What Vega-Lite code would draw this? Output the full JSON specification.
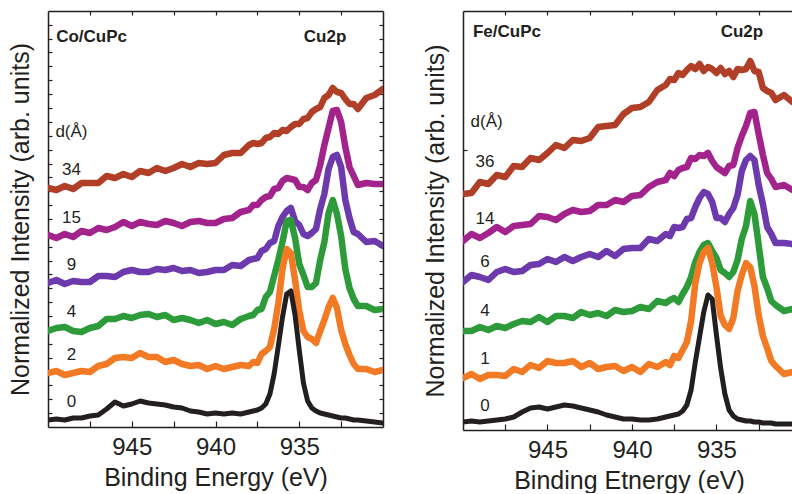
{
  "$schema": "https://vega.github.io/schema/vega-lite/v6.json",
  "padding": {"left": 8, "top": 10, "right": 0, "bottom": 0},
  "spacing": 39,
  "config": {
    "font": "Liberation Sans",
    "view": {"stroke": null},
    "axis": {
      "grid": false,
      "domainColor": "#231f20",
      "domainWidth": 1.5,
      "tickColor": "#231f20",
      "tickWidth": 1.2,
      "labelColor": "#231f20",
      "titleColor": "#231f20",
      "labelFontSize": 24,
      "titleFontSize": 25,
      "titleFontWeight": "normal"
    }
  },
  "datasets": {
    "co": [
      {"d":"34","e":950,"y":23.9},{"d":"34","e":949.5,"y":23.7},{"d":"34","e":949,"y":24.1},{"d":"34","e":948.5,"y":23.8},{"d":"34","e":948,"y":24.4},{"d":"34","e":947.5,"y":24.4},{"d":"34","e":947,"y":24.4},{"d":"34","e":946.5,"y":25.1},{"d":"34","e":946,"y":24.9},{"d":"34","e":945.5,"y":25.3},{"d":"34","e":945,"y":25.0},{"d":"34","e":944.5,"y":25.6},{"d":"34","e":944,"y":25.4},{"d":"34","e":943.5,"y":25.9},{"d":"34","e":943,"y":25.6},{"d":"34","e":942.5,"y":25.9},{"d":"34","e":942,"y":26.3},{"d":"34","e":941.5,"y":26.0},{"d":"34","e":941,"y":26.4},{"d":"34","e":940.5,"y":26.3},{"d":"34","e":940,"y":26.4},{"d":"34","e":939.5,"y":27.2},{"d":"34","e":939,"y":27.4},{"d":"34","e":938.5,"y":27.4},{"d":"34","e":938,"y":28.2},{"d":"34","e":937.75,"y":28.4},{"d":"34","e":937.5,"y":28.3},{"d":"34","e":937.25,"y":28.4},{"d":"34","e":937,"y":28.9},{"d":"34","e":936.75,"y":29.0},{"d":"34","e":936.5,"y":29.4},{"d":"34","e":936.25,"y":29.3},{"d":"34","e":936,"y":29.7},{"d":"34","e":935.75,"y":29.6},{"d":"34","e":935.5,"y":30.0},{"d":"34","e":935.25,"y":30.3},{"d":"34","e":935,"y":30.3},{"d":"34","e":934.75,"y":30.8},{"d":"34","e":934.5,"y":30.9},{"d":"34","e":934.25,"y":31.5},{"d":"34","e":934,"y":31.8},{"d":"34","e":933.75,"y":32.0},{"d":"34","e":933.5,"y":32.9},{"d":"34","e":933.25,"y":33.2},{"d":"34","e":933,"y":33.9},{"d":"34","e":932.75,"y":33.5},{"d":"34","e":932.5,"y":33.4},{"d":"34","e":932.25,"y":32.8},{"d":"34","e":932,"y":32.3},{"d":"34","e":931.75,"y":32.3},{"d":"34","e":931.5,"y":31.8},{"d":"34","e":931,"y":32.9},{"d":"34","e":930.5,"y":33.2},{"d":"34","e":930,"y":33.8},
      {"d":"15","e":950,"y":19.2},{"d":"15","e":949.5,"y":18.9},{"d":"15","e":949,"y":19.3},{"d":"15","e":948.5,"y":19.0},{"d":"15","e":948,"y":19.6},{"d":"15","e":947.5,"y":19.4},{"d":"15","e":947,"y":19.9},{"d":"15","e":946.5,"y":19.7},{"d":"15","e":946,"y":20.0},{"d":"15","e":945.5,"y":20.5},{"d":"15","e":945,"y":20.1},{"d":"15","e":944.5,"y":20.5},{"d":"15","e":944,"y":20.3},{"d":"15","e":943.5,"y":20.2},{"d":"15","e":943,"y":20.6},{"d":"15","e":942.5,"y":20.4},{"d":"15","e":942,"y":20.1},{"d":"15","e":941.5,"y":20.5},{"d":"15","e":941,"y":20.6},{"d":"15","e":940.5,"y":20.4},{"d":"15","e":940,"y":20.4},{"d":"15","e":939.5,"y":20.8},{"d":"15","e":939,"y":20.9},{"d":"15","e":938.5,"y":21.5},{"d":"15","e":938,"y":21.7},{"d":"15","e":937.75,"y":22.2},{"d":"15","e":937.5,"y":22.2},{"d":"15","e":937.25,"y":22.7},{"d":"15","e":937,"y":23.0},{"d":"15","e":936.75,"y":23.1},{"d":"15","e":936.5,"y":23.8},{"d":"15","e":936.25,"y":23.9},{"d":"15","e":936,"y":24.6},{"d":"15","e":935.75,"y":24.9},{"d":"15","e":935.5,"y":24.8},{"d":"15","e":935.25,"y":24.7},{"d":"15","e":935,"y":24.0},{"d":"15","e":934.75,"y":24.0},{"d":"15","e":934.5,"y":23.7},{"d":"15","e":934.25,"y":24.4},{"d":"15","e":934,"y":24.7},{"d":"15","e":933.75,"y":26.2},{"d":"15","e":933.5,"y":28.2},{"d":"15","e":933.25,"y":29.9},{"d":"15","e":933,"y":31.6},{"d":"15","e":932.75,"y":31.7},{"d":"15","e":932.5,"y":30.5},{"d":"15","e":932.25,"y":28.0},{"d":"15","e":932,"y":26.0},{"d":"15","e":931.75,"y":25.1},{"d":"15","e":931.5,"y":24.2},{"d":"15","e":931,"y":24.4},{"d":"15","e":930.5,"y":24.3},{"d":"15","e":930,"y":24.3},
      {"d":"9","e":950,"y":14.4},{"d":"9","e":949.5,"y":14.7},{"d":"9","e":949,"y":14.3},{"d":"9","e":948.5,"y":14.6},{"d":"9","e":948,"y":14.5},{"d":"9","e":947.5,"y":14.5},{"d":"9","e":947,"y":15.1},{"d":"9","e":946.5,"y":15.1},{"d":"9","e":946,"y":15.0},{"d":"9","e":945.5,"y":15.5},{"d":"9","e":945,"y":15.7},{"d":"9","e":944.5,"y":15.5},{"d":"9","e":944,"y":15.5},{"d":"9","e":943.5,"y":15.8},{"d":"9","e":943,"y":15.7},{"d":"9","e":942.5,"y":15.9},{"d":"9","e":942,"y":15.6},{"d":"9","e":941.5,"y":15.7},{"d":"9","e":941,"y":15.4},{"d":"9","e":940.5,"y":15.5},{"d":"9","e":940,"y":15.7},{"d":"9","e":939.5,"y":15.7},{"d":"9","e":939,"y":16.2},{"d":"9","e":938.5,"y":16.1},{"d":"9","e":938,"y":16.7},{"d":"9","e":937.75,"y":16.8},{"d":"9","e":937.5,"y":16.9},{"d":"9","e":937.25,"y":17.6},{"d":"9","e":937,"y":17.8},{"d":"9","e":936.75,"y":18.4},{"d":"9","e":936.5,"y":18.6},{"d":"9","e":936.25,"y":20.1},{"d":"9","e":936,"y":21.0},{"d":"9","e":935.75,"y":21.6},{"d":"9","e":935.5,"y":21.9},{"d":"9","e":935.25,"y":20.6},{"d":"9","e":935,"y":20.2},{"d":"9","e":934.75,"y":19.3},{"d":"9","e":934.5,"y":19.1},{"d":"9","e":934.25,"y":19.4},{"d":"9","e":934,"y":19.8},{"d":"9","e":933.75,"y":21.8},{"d":"9","e":933.5,"y":23.3},{"d":"9","e":933.25,"y":25.8},{"d":"9","e":933,"y":27.0},{"d":"9","e":932.75,"y":27.2},{"d":"9","e":932.5,"y":26.0},{"d":"9","e":932.25,"y":22.7},{"d":"9","e":932,"y":20.9},{"d":"9","e":931.75,"y":19.5},{"d":"9","e":931.5,"y":19.3},{"d":"9","e":931,"y":18.5},{"d":"9","e":930.5,"y":18.6},{"d":"9","e":930,"y":18.1},
      {"d":"4","e":950,"y":9.6},{"d":"4","e":949.5,"y":9.9},{"d":"4","e":949,"y":10.0},{"d":"4","e":948.5,"y":9.6},{"d":"4","e":948,"y":9.5},{"d":"4","e":947.5,"y":9.9},{"d":"4","e":947,"y":10.1},{"d":"4","e":946.5,"y":10.8},{"d":"4","e":946,"y":10.8},{"d":"4","e":945.5,"y":11.1},{"d":"4","e":945,"y":10.9},{"d":"4","e":944.5,"y":11.2},{"d":"4","e":944,"y":11.3},{"d":"4","e":943.5,"y":11.0},{"d":"4","e":943,"y":11.2},{"d":"4","e":942.5,"y":10.7},{"d":"4","e":942,"y":10.9},{"d":"4","e":941.5,"y":10.7},{"d":"4","e":941,"y":10.4},{"d":"4","e":940.5,"y":10.7},{"d":"4","e":940,"y":10.3},{"d":"4","e":939.5,"y":10.5},{"d":"4","e":939,"y":10.2},{"d":"4","e":938.5,"y":10.8},{"d":"4","e":938,"y":11.1},{"d":"4","e":937.75,"y":11.2},{"d":"4","e":937.5,"y":11.7},{"d":"4","e":937.25,"y":11.8},{"d":"4","e":937,"y":13.0},{"d":"4","e":936.75,"y":13.5},{"d":"4","e":936.5,"y":15.1},{"d":"4","e":936.25,"y":16.7},{"d":"4","e":936,"y":18.5},{"d":"4","e":935.75,"y":20.6},{"d":"4","e":935.5,"y":20.7},{"d":"4","e":935.25,"y":18.9},{"d":"4","e":935,"y":16.3},{"d":"4","e":934.75,"y":15.2},{"d":"4","e":934.5,"y":14.0},{"d":"4","e":934.25,"y":14.0},{"d":"4","e":934,"y":14.4},{"d":"4","e":933.75,"y":16.7},{"d":"4","e":933.5,"y":18.5},{"d":"4","e":933.25,"y":21.4},{"d":"4","e":933,"y":22.7},{"d":"4","e":932.75,"y":21.3},{"d":"4","e":932.5,"y":19.1},{"d":"4","e":932.25,"y":15.8},{"d":"4","e":932,"y":13.9},{"d":"4","e":931.75,"y":12.8},{"d":"4","e":931.5,"y":12.1},{"d":"4","e":931,"y":12.1},{"d":"4","e":930.5,"y":11.7},{"d":"4","e":930,"y":11.8},
      {"d":"2","e":950,"y":5.4},{"d":"2","e":949.5,"y":5.6},{"d":"2","e":949,"y":5.2},{"d":"2","e":948.5,"y":5.4},{"d":"2","e":948,"y":5.6},{"d":"2","e":947.5,"y":5.5},{"d":"2","e":947,"y":6.1},{"d":"2","e":946.5,"y":6.3},{"d":"2","e":946,"y":6.9},{"d":"2","e":945.5,"y":7.0},{"d":"2","e":945,"y":6.9},{"d":"2","e":944.5,"y":7.4},{"d":"2","e":944,"y":7.0},{"d":"2","e":943.5,"y":7.0},{"d":"2","e":943,"y":6.5},{"d":"2","e":942.5,"y":6.7},{"d":"2","e":942,"y":6.3},{"d":"2","e":941.5,"y":6.1},{"d":"2","e":941,"y":6.2},{"d":"2","e":940.5,"y":5.8},{"d":"2","e":940,"y":6.1},{"d":"2","e":939.5,"y":5.8},{"d":"2","e":939,"y":6.0},{"d":"2","e":938.5,"y":6.2},{"d":"2","e":938,"y":6.1},{"d":"2","e":937.75,"y":6.5},{"d":"2","e":937.5,"y":6.4},{"d":"2","e":937.25,"y":7.3},{"d":"2","e":937,"y":7.6},{"d":"2","e":936.75,"y":8.0},{"d":"2","e":936.5,"y":9.8},{"d":"2","e":936.25,"y":12.4},{"d":"2","e":936,"y":15.8},{"d":"2","e":935.75,"y":17.8},{"d":"2","e":935.5,"y":17.4},{"d":"2","e":935.25,"y":14.7},{"d":"2","e":935,"y":11.6},{"d":"2","e":934.75,"y":9.6},{"d":"2","e":934.5,"y":9.0},{"d":"2","e":934.25,"y":8.8},{"d":"2","e":934,"y":8.4},{"d":"2","e":933.75,"y":9.6},{"d":"2","e":933.5,"y":10.7},{"d":"2","e":933.25,"y":12.0},{"d":"2","e":933,"y":12.9},{"d":"2","e":932.75,"y":11.9},{"d":"2","e":932.5,"y":9.7},{"d":"2","e":932.25,"y":8.3},{"d":"2","e":932,"y":7.2},{"d":"2","e":931.75,"y":6.3},{"d":"2","e":931.5,"y":5.8},{"d":"2","e":931,"y":5.8},{"d":"2","e":930.5,"y":5.5},{"d":"2","e":930,"y":5.7},
      {"d":"0","e":950,"y":0.7},{"d":"0","e":949.5,"y":0.8},{"d":"0","e":949,"y":0.7},{"d":"0","e":948.5,"y":0.9},{"d":"0","e":948,"y":0.9},{"d":"0","e":947.5,"y":1.1},{"d":"0","e":947,"y":1.2},{"d":"0","e":946.5,"y":1.8},{"d":"0","e":946,"y":2.5},{"d":"0","e":945.5,"y":2.1},{"d":"0","e":945,"y":2.3},{"d":"0","e":944.5,"y":2.6},{"d":"0","e":944,"y":2.4},{"d":"0","e":943.5,"y":2.3},{"d":"0","e":943,"y":2.2},{"d":"0","e":942.5,"y":2.0},{"d":"0","e":942,"y":1.9},{"d":"0","e":941.5,"y":1.6},{"d":"0","e":941,"y":1.5},{"d":"0","e":940.5,"y":1.3},{"d":"0","e":940,"y":1.4},{"d":"0","e":939.5,"y":1.3},{"d":"0","e":939,"y":1.4},{"d":"0","e":938.5,"y":1.3},{"d":"0","e":938,"y":1.5},{"d":"0","e":937.75,"y":1.6},{"d":"0","e":937.5,"y":1.7},{"d":"0","e":937.25,"y":1.9},{"d":"0","e":937,"y":2.3},{"d":"0","e":936.75,"y":3.3},{"d":"0","e":936.5,"y":5.3},{"d":"0","e":936.25,"y":8.1},{"d":"0","e":936,"y":11.0},{"d":"0","e":935.75,"y":13.3},{"d":"0","e":935.5,"y":13.6},{"d":"0","e":935.25,"y":11.2},{"d":"0","e":935,"y":7.7},{"d":"0","e":934.75,"y":4.4},{"d":"0","e":934.5,"y":2.6},{"d":"0","e":934.25,"y":1.9},{"d":"0","e":934,"y":1.6},{"d":"0","e":933.75,"y":1.4},{"d":"0","e":933.5,"y":1.3},{"d":"0","e":933.25,"y":1.2},{"d":"0","e":933,"y":1.1},{"d":"0","e":932.75,"y":1.0},{"d":"0","e":932.5,"y":0.9},{"d":"0","e":932.25,"y":0.9},{"d":"0","e":932,"y":0.8},{"d":"0","e":931.75,"y":0.7},{"d":"0","e":931.5,"y":0.7},{"d":"0","e":931,"y":0.6},{"d":"0","e":930.5,"y":0.5},{"d":"0","e":930,"y":0.4}
    ],
    "fe": [
      {"d":"36","e":950,"y":23.6},{"d":"36","e":949.5,"y":23.7},{"d":"36","e":949,"y":24.8},{"d":"36","e":948.5,"y":24.6},{"d":"36","e":948,"y":25.5},{"d":"36","e":947.5,"y":25.3},{"d":"36","e":947,"y":26.4},{"d":"36","e":946.5,"y":26.3},{"d":"36","e":946,"y":27.2},{"d":"36","e":945.5,"y":27.0},{"d":"36","e":945,"y":27.7},{"d":"36","e":944.5,"y":28.5},{"d":"36","e":944,"y":28.2},{"d":"36","e":943.5,"y":29.0},{"d":"36","e":943,"y":28.9},{"d":"36","e":942.5,"y":29.2},{"d":"36","e":942,"y":30.3},{"d":"36","e":941.5,"y":30.4},{"d":"36","e":941,"y":30.5},{"d":"36","e":940.5,"y":31.6},{"d":"36","e":940,"y":32.2},{"d":"36","e":939.5,"y":32.3},{"d":"36","e":939,"y":32.8},{"d":"36","e":938.5,"y":34.0},{"d":"36","e":938,"y":34.5},{"d":"36","e":937.75,"y":35.1},{"d":"36","e":937.5,"y":35.0},{"d":"36","e":937.25,"y":35.7},{"d":"36","e":937,"y":35.5},{"d":"36","e":936.75,"y":36.0},{"d":"36","e":936.5,"y":36.4},{"d":"36","e":936.25,"y":36.1},{"d":"36","e":936,"y":36.6},{"d":"36","e":935.75,"y":35.9},{"d":"36","e":935.5,"y":36.3},{"d":"36","e":935.25,"y":36.1},{"d":"36","e":935,"y":35.7},{"d":"36","e":934.75,"y":36.2},{"d":"36","e":934.5,"y":35.6},{"d":"36","e":934.25,"y":35.9},{"d":"36","e":934,"y":35.3},{"d":"36","e":933.75,"y":36.1},{"d":"36","e":933.5,"y":36.0},{"d":"36","e":933.25,"y":36.1},{"d":"36","e":933,"y":36.9},{"d":"36","e":932.75,"y":35.9},{"d":"36","e":932.5,"y":35.8},{"d":"36","e":932.25,"y":34.2},{"d":"36","e":932,"y":33.9},{"d":"36","e":931.75,"y":33.7},{"d":"36","e":931.5,"y":33.0},{"d":"36","e":931,"y":33.5},{"d":"36","e":930.5,"y":32.8},{"d":"36","e":930,"y":33.4},
      {"d":"14","e":950,"y":18.9},{"d":"14","e":949.5,"y":19.6},{"d":"14","e":949,"y":19.2},{"d":"14","e":948.5,"y":19.7},{"d":"14","e":948,"y":20.3},{"d":"14","e":947.5,"y":19.8},{"d":"14","e":947,"y":20.4},{"d":"14","e":946.5,"y":20.5},{"d":"14","e":946,"y":20.6},{"d":"14","e":945.5,"y":21.4},{"d":"14","e":945,"y":21.3},{"d":"14","e":944.5,"y":21.0},{"d":"14","e":944,"y":21.6},{"d":"14","e":943.5,"y":22.0},{"d":"14","e":943,"y":21.8},{"d":"14","e":942.5,"y":21.9},{"d":"14","e":942,"y":22.5},{"d":"14","e":941.5,"y":22.5},{"d":"14","e":941,"y":23.0},{"d":"14","e":940.5,"y":22.8},{"d":"14","e":940,"y":23.4},{"d":"14","e":939.5,"y":23.5},{"d":"14","e":939,"y":24.3},{"d":"14","e":938.5,"y":24.8},{"d":"14","e":938,"y":25.0},{"d":"14","e":937.75,"y":25.7},{"d":"14","e":937.5,"y":25.4},{"d":"14","e":937.25,"y":26.0},{"d":"14","e":937,"y":26.2},{"d":"14","e":936.75,"y":26.3},{"d":"14","e":936.5,"y":27.2},{"d":"14","e":936.25,"y":27.1},{"d":"14","e":936,"y":27.5},{"d":"14","e":935.75,"y":27.4},{"d":"14","e":935.5,"y":27.7},{"d":"14","e":935.25,"y":26.9},{"d":"14","e":935,"y":26.3},{"d":"14","e":934.75,"y":26.0},{"d":"14","e":934.5,"y":25.7},{"d":"14","e":934.25,"y":26.4},{"d":"14","e":934,"y":26.5},{"d":"14","e":933.75,"y":28.2},{"d":"14","e":933.5,"y":29.4},{"d":"14","e":933.25,"y":30.4},{"d":"14","e":933,"y":31.7},{"d":"14","e":932.75,"y":31.8},{"d":"14","e":932.5,"y":29.6},{"d":"14","e":932.25,"y":27.5},{"d":"14","e":932,"y":25.7},{"d":"14","e":931.75,"y":25.1},{"d":"14","e":931.5,"y":24.3},{"d":"14","e":931,"y":24.5},{"d":"14","e":930.5,"y":24.0},{"d":"14","e":930,"y":24.2},
      {"d":"6","e":950,"y":14.8},{"d":"6","e":949.5,"y":15.5},{"d":"6","e":949,"y":15.3},{"d":"6","e":948.5,"y":15.0},{"d":"6","e":948,"y":15.8},{"d":"6","e":947.5,"y":16.1},{"d":"6","e":947,"y":15.8},{"d":"6","e":946.5,"y":15.9},{"d":"6","e":946,"y":16.5},{"d":"6","e":945.5,"y":16.6},{"d":"6","e":945,"y":17.1},{"d":"6","e":944.5,"y":16.8},{"d":"6","e":944,"y":17.3},{"d":"6","e":943.5,"y":16.9},{"d":"6","e":943,"y":17.3},{"d":"6","e":942.5,"y":17.6},{"d":"6","e":942,"y":17.3},{"d":"6","e":941.5,"y":17.9},{"d":"6","e":941,"y":17.4},{"d":"6","e":940.5,"y":18.1},{"d":"6","e":940,"y":18.2},{"d":"6","e":939.5,"y":18.2},{"d":"6","e":939,"y":19.1},{"d":"6","e":938.5,"y":18.9},{"d":"6","e":938,"y":19.6},{"d":"6","e":937.75,"y":19.4},{"d":"6","e":937.5,"y":20.3},{"d":"6","e":937.25,"y":20.2},{"d":"6","e":937,"y":20.3},{"d":"6","e":936.75,"y":21.1},{"d":"6","e":936.5,"y":21.2},{"d":"6","e":936.25,"y":22.3},{"d":"6","e":936,"y":23.2},{"d":"6","e":935.75,"y":23.8},{"d":"6","e":935.5,"y":23.6},{"d":"6","e":935.25,"y":22.8},{"d":"6","e":935,"y":21.2},{"d":"6","e":934.75,"y":21.2},{"d":"6","e":934.5,"y":20.8},{"d":"6","e":934.25,"y":21.6},{"d":"6","e":934,"y":22.2},{"d":"6","e":933.75,"y":23.5},{"d":"6","e":933.5,"y":25.9},{"d":"6","e":933.25,"y":27.0},{"d":"6","e":933,"y":27.4},{"d":"6","e":932.75,"y":27.0},{"d":"6","e":932.5,"y":24.5},{"d":"6","e":932.25,"y":22.6},{"d":"6","e":932,"y":20.3},{"d":"6","e":931.75,"y":19.6},{"d":"6","e":931.5,"y":18.7},{"d":"6","e":931,"y":18.7},{"d":"6","e":930.5,"y":18.6},{"d":"6","e":930,"y":17.9},
      {"d":"4","e":950,"y":9.9},{"d":"4","e":949.5,"y":9.9},{"d":"4","e":949,"y":10.3},{"d":"4","e":948.5,"y":10.0},{"d":"4","e":948,"y":10.4},{"d":"4","e":947.5,"y":10.2},{"d":"4","e":947,"y":10.6},{"d":"4","e":946.5,"y":10.9},{"d":"4","e":946,"y":10.8},{"d":"4","e":945.5,"y":11.3},{"d":"4","e":945,"y":10.8},{"d":"4","e":944.5,"y":11.4},{"d":"4","e":944,"y":11.4},{"d":"4","e":943.5,"y":11.2},{"d":"4","e":943,"y":11.8},{"d":"4","e":942.5,"y":11.5},{"d":"4","e":942,"y":11.7},{"d":"4","e":941.5,"y":11.4},{"d":"4","e":941,"y":12.0},{"d":"4","e":940.5,"y":11.8},{"d":"4","e":940,"y":11.9},{"d":"4","e":939.5,"y":12.3},{"d":"4","e":939,"y":12.1},{"d":"4","e":938.5,"y":12.9},{"d":"4","e":938,"y":12.7},{"d":"4","e":937.75,"y":13.0},{"d":"4","e":937.5,"y":13.2},{"d":"4","e":937.25,"y":12.8},{"d":"4","e":937,"y":13.6},{"d":"4","e":936.75,"y":14.3},{"d":"4","e":936.5,"y":15.3},{"d":"4","e":936.25,"y":16.8},{"d":"4","e":936,"y":17.8},{"d":"4","e":935.75,"y":18.5},{"d":"4","e":935.5,"y":18.7},{"d":"4","e":935.25,"y":17.9},{"d":"4","e":935,"y":17.2},{"d":"4","e":934.75,"y":16.0},{"d":"4","e":934.5,"y":15.7},{"d":"4","e":934.25,"y":15.3},{"d":"4","e":934,"y":15.8},{"d":"4","e":933.75,"y":17.0},{"d":"4","e":933.5,"y":19.1},{"d":"4","e":933.25,"y":20.4},{"d":"4","e":933,"y":22.9},{"d":"4","e":932.75,"y":21.6},{"d":"4","e":932.5,"y":18.5},{"d":"4","e":932.25,"y":15.3},{"d":"4","e":932,"y":14.2},{"d":"4","e":931.75,"y":12.9},{"d":"4","e":931.5,"y":12.5},{"d":"4","e":931,"y":11.9},{"d":"4","e":930.5,"y":12.1},{"d":"4","e":930,"y":11.8},
      {"d":"1","e":950,"y":5.2},{"d":"1","e":949.5,"y":5.6},{"d":"1","e":949,"y":5.1},{"d":"1","e":948.5,"y":5.5},{"d":"1","e":948,"y":5.5},{"d":"1","e":947.5,"y":5.4},{"d":"1","e":947,"y":6.1},{"d":"1","e":946.5,"y":5.8},{"d":"1","e":946,"y":6.5},{"d":"1","e":945.5,"y":6.2},{"d":"1","e":945,"y":6.9},{"d":"1","e":944.5,"y":6.7},{"d":"1","e":944,"y":6.7},{"d":"1","e":943.5,"y":6.9},{"d":"1","e":943,"y":6.3},{"d":"1","e":942.5,"y":6.7},{"d":"1","e":942,"y":6.1},{"d":"1","e":941.5,"y":6.3},{"d":"1","e":941,"y":6.4},{"d":"1","e":940.5,"y":5.9},{"d":"1","e":940,"y":6.3},{"d":"1","e":939.5,"y":5.8},{"d":"1","e":939,"y":6.6},{"d":"1","e":938.5,"y":6.3},{"d":"1","e":938,"y":6.8},{"d":"1","e":937.75,"y":6.5},{"d":"1","e":937.5,"y":7.4},{"d":"1","e":937.25,"y":7.2},{"d":"1","e":937,"y":8.0},{"d":"1","e":936.75,"y":8.8},{"d":"1","e":936.5,"y":10.9},{"d":"1","e":936.25,"y":14.7},{"d":"1","e":936,"y":16.7},{"d":"1","e":935.75,"y":17.8},{"d":"1","e":935.5,"y":18.2},{"d":"1","e":935.25,"y":16.7},{"d":"1","e":935,"y":14.3},{"d":"1","e":934.75,"y":11.4},{"d":"1","e":934.5,"y":10.5},{"d":"1","e":934.25,"y":10.1},{"d":"1","e":934,"y":11.2},{"d":"1","e":933.75,"y":13.9},{"d":"1","e":933.5,"y":15.5},{"d":"1","e":933.25,"y":16.7},{"d":"1","e":933,"y":16.3},{"d":"1","e":932.75,"y":14.4},{"d":"1","e":932.5,"y":11.5},{"d":"1","e":932.25,"y":9.4},{"d":"1","e":932,"y":8.2},{"d":"1","e":931.75,"y":6.9},{"d":"1","e":931.5,"y":6.4},{"d":"1","e":931,"y":5.6},{"d":"1","e":930.5,"y":5.8},{"d":"1","e":930,"y":5.6},
      {"d":"0","e":950,"y":0.8},{"d":"0","e":949.5,"y":0.9},{"d":"0","e":949,"y":0.8},{"d":"0","e":948.5,"y":0.9},{"d":"0","e":948,"y":1.0},{"d":"0","e":947.5,"y":1.1},{"d":"0","e":947,"y":1.3},{"d":"0","e":946.5,"y":1.8},{"d":"0","e":946,"y":2.2},{"d":"0","e":945.5,"y":2.3},{"d":"0","e":945,"y":2.1},{"d":"0","e":944.5,"y":2.3},{"d":"0","e":944,"y":2.5},{"d":"0","e":943.5,"y":2.4},{"d":"0","e":943,"y":2.2},{"d":"0","e":942.5,"y":2.0},{"d":"0","e":942,"y":1.8},{"d":"0","e":941.5,"y":1.5},{"d":"0","e":941,"y":1.3},{"d":"0","e":940.5,"y":1.1},{"d":"0","e":940,"y":1.1},{"d":"0","e":939.5,"y":1.0},{"d":"0","e":939,"y":1.0},{"d":"0","e":938.5,"y":1.1},{"d":"0","e":938,"y":1.3},{"d":"0","e":937.75,"y":1.4},{"d":"0","e":937.5,"y":1.5},{"d":"0","e":937.25,"y":1.6},{"d":"0","e":937,"y":1.9},{"d":"0","e":936.75,"y":2.5},{"d":"0","e":936.5,"y":4.0},{"d":"0","e":936.25,"y":6.8},{"d":"0","e":936,"y":9.3},{"d":"0","e":935.75,"y":11.8},{"d":"0","e":935.5,"y":13.5},{"d":"0","e":935.25,"y":13.1},{"d":"0","e":935,"y":9.5},{"d":"0","e":934.75,"y":6.2},{"d":"0","e":934.5,"y":3.6},{"d":"0","e":934.25,"y":2.0},{"d":"0","e":934,"y":1.4},{"d":"0","e":933.75,"y":1.1},{"d":"0","e":933.5,"y":1.0},{"d":"0","e":933.25,"y":0.9},{"d":"0","e":933,"y":0.9},{"d":"0","e":932.75,"y":0.8},{"d":"0","e":932.5,"y":0.8},{"d":"0","e":932.25,"y":0.7},{"d":"0","e":932,"y":0.7},{"d":"0","e":931.75,"y":0.7},{"d":"0","e":931.5,"y":0.6},{"d":"0","e":931,"y":0.6},{"d":"0","e":930.5,"y":0.6},{"d":"0","e":930,"y":0.5}
    ]
  },
  "hconcat": [
    {
      "width": 335,
      "height": 416,
      "layer": [
        {
          "data": {"name": "co"},
          "mark": {"type": "line", "strokeJoin": "round", "strokeCap": "round", "clip": true},
          "encoding": {
            "x": {
              "field": "e", "type": "quantitative",
              "scale": {"domain": [930, 950], "reverse": true, "nice": false, "zero": false},
              "axis": {
                "orient": "bottom", "title": "Binding Energy (eV)",
                "values": [947.5, 945, 942.5, 940, 937.5, 935, 932.5],
                "labelExpr": "datum.value % 5 === 0 ? datum.label : ''",
                "labelOverlap": false, "labelFlush": false,
                "tickSize": -6, "labelPadding": 14, "titlePadding": 6
              }
            },
            "y": {
              "field": "y", "type": "quantitative",
              "scale": {"domain": [0, 41.6], "nice": false, "zero": false},
              "axis": {
                "orient": "left", "title": "Normalized Intensity (arb. units)",
                "values": [1.39, 2.77, 4.16, 5.55, 6.94, 8.32, 9.71, 11.1, 12.48, 13.87, 15.26, 16.64, 18.03, 19.42, 20.81, 22.19, 23.58, 24.97, 26.35, 27.74, 29.13, 30.51, 31.9, 33.29, 34.68, 36.06, 37.45, 38.84, 40.22],
                "labels": false, "tickSize": -4, "titlePadding": 14
              }
            },
            "color": {
              "field": "d", "type": "nominal",
              "scale": {"domain": ["34", "15", "9", "4", "2", "0"], "range": ["#b13e26", "#a3238d", "#6c3aac", "#2d9b3a", "#f37a25", "#231f20"]},
              "legend": null
            },
            "strokeWidth": {"condition": {"test": "datum.d === '0'", "value": 5}, "value": 6.5}
          }
        },
        {
          "data": {"values": [
            {"t": "d(Å)", "e": 948.6, "y": 29.5},
            {"t": "34", "e": 948.6, "y": 25.7},
            {"t": "15", "e": 948.6, "y": 20.9},
            {"t": "9", "e": 948.6, "y": 16.2},
            {"t": "4", "e": 948.6, "y": 11.5},
            {"t": "2", "e": 948.6, "y": 7.2},
            {"t": "0", "e": 948.6, "y": 2.5}
          ]},
          "mark": {"type": "text", "fontSize": 17, "color": "#231f20", "align": "center", "baseline": "middle"},
          "encoding": {
            "x": {"field": "e", "type": "quantitative",
              "axis": {"orient": "top", "title": null, "labels": false, "tickSize": -4,
                "values": [947.5, 945, 942.5, 940, 937.5, 935, 932.5]}},
            "y": {"field": "y", "type": "quantitative",
              "axis": {"orient": "right", "title": null, "labels": false, "tickSize": -4,
                "values": [1.39, 2.77, 4.16, 5.55, 6.94, 8.32, 9.71, 11.1, 12.48, 13.87, 15.26, 16.64, 18.03, 19.42, 20.81, 22.19, 23.58, 24.97, 26.35, 27.74, 29.13, 30.51, 31.9, 33.29, 34.68, 36.06, 37.45, 38.84, 40.22]}},
            "text": {"field": "t"}
          }
        },
        {
          "data": {"values": [
            {"t": "Co/CuPc", "e": 947.4, "y": 39.0},
            {"t": "Cu2p", "e": 933.46, "y": 39.0}
          ]},
          "mark": {"type": "text", "fontSize": 17, "fontWeight": "bold", "color": "#231f20", "align": "center", "baseline": "middle"},
          "encoding": {
            "x": {"field": "e", "type": "quantitative", "axis": null},
            "y": {"field": "y", "type": "quantitative", "axis": null},
            "text": {"field": "t"}
          }
        }
      ],
      "resolve": {"axis": {"x": "independent", "y": "independent"}}
    },
    {
      "width": 332,
      "height": 419,
      "layer": [
        {
          "data": {"name": "fe"},
          "mark": {"type": "line", "strokeJoin": "round", "strokeCap": "round", "clip": true},
          "encoding": {
            "x": {
              "field": "e", "type": "quantitative",
              "scale": {"domain": [930.35, 950], "reverse": true, "nice": false, "zero": false},
              "axis": {
                "orient": "bottom", "title": "Binding Etnergy (eV)",
                "values": [947.5, 945, 942.5, 940, 937.5, 935, 932.5],
                "labelExpr": "datum.value % 5 === 0 ? datum.label : ''",
                "labelOverlap": false, "labelFlush": false,
                "tickSize": -6, "labelPadding": 14, "titlePadding": 6
              }
            },
            "y": {
              "field": "y", "type": "quantitative",
              "scale": {"domain": [0, 41.9], "nice": false, "zero": false},
              "axis": {
                "orient": "left", "title": "Normalized Intensity (arb. units)",
                "values": [28.0], "labels": false, "tickSize": -4, "titlePadding": 14
              }
            },
            "color": {
              "field": "d", "type": "nominal",
              "scale": {"domain": ["36", "14", "6", "4", "1", "0"], "range": ["#b13e26", "#a3238d", "#6c3aac", "#2d9b3a", "#f37a25", "#231f20"]},
              "legend": null
            },
            "strokeWidth": {"condition": {"test": "datum.d === '0'", "value": 5}, "value": 6.5}
          }
        },
        {
          "data": {"values": [
            {"t": "d(Å)", "e": 948.6, "y": 30.8},
            {"t": "36", "e": 948.7, "y": 26.8},
            {"t": "14", "e": 948.7, "y": 21.1},
            {"t": "6", "e": 948.7, "y": 16.8},
            {"t": "4", "e": 948.7, "y": 11.9},
            {"t": "1", "e": 948.7, "y": 7.1},
            {"t": "0", "e": 948.7, "y": 2.4}
          ]},
          "mark": {"type": "text", "fontSize": 17, "color": "#231f20", "align": "center", "baseline": "middle"},
          "encoding": {
            "x": {"field": "e", "type": "quantitative",
              "axis": {"orient": "top", "title": null, "labels": false, "tickSize": -4,
                "values": [947.5, 945, 942.5, 940, 937.5, 935, 932.5]}},
            "y": {"field": "y", "type": "quantitative", "axis": null},
            "text": {"field": "t"}
          }
        },
        {
          "data": {"values": [
            {"t": "Fe/CuPc", "e": 947.4, "y": 39.8},
            {"t": "Cu2p", "e": 933.49, "y": 39.8}
          ]},
          "mark": {"type": "text", "fontSize": 17, "fontWeight": "bold", "color": "#231f20", "align": "center", "baseline": "middle"},
          "encoding": {
            "x": {"field": "e", "type": "quantitative", "axis": null},
            "y": {"field": "y", "type": "quantitative", "axis": null},
            "text": {"field": "t"}
          }
        }
      ],
      "resolve": {"axis": {"x": "independent", "y": "independent"}}
    }
  ],
  "resolve": {"scale": {"color": "independent"}}
}
